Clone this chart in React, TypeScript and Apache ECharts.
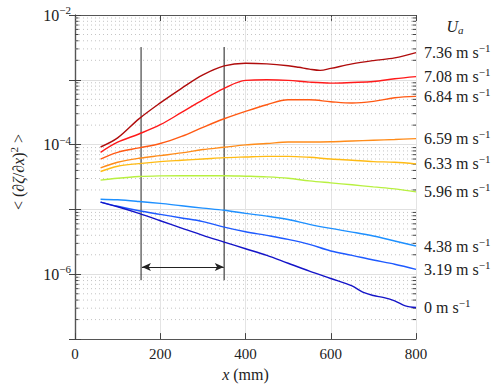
import React, { useEffect, useRef } from "react";
import * as echarts from "echarts";

const xs = [60, 100, 150, 200, 250, 300, 350, 400, 450, 500, 550, 600, 650, 700, 750, 800];
const xs736 = [60, 100, 150, 200, 250, 300, 350, 400, 450, 500, 525, 550, 575, 600, 650, 700, 750, 800];
const xs0 = [60, 100, 150, 200, 250, 300, 350, 400, 450, 500, 550, 600, 650, 675, 700, 725, 750, 775, 800];

const u736 = [9.2e-5, 1.27e-4, 2.5e-4, 4.4e-4, 7.4e-4, 1.19e-3, 1.64e-3, 1.8e-3, 1.76e-3, 1.65e-3, 1.56e-3, 1.46e-3, 1.4e-3, 1.5e-3, 1.76e-3, 1.98e-3, 2.18e-3, 2.63e-3];
const u708 = [7.6e-5, 1.09e-4, 1.46e-4, 2.03e-4, 3.14e-4, 4.92e-4, 7.4e-4, 9.8e-4, 1.0e-3, 9.8e-4, 9.2e-4, 8.9e-4, 9.1e-4, 9.4e-4, 1.04e-3, 1.12e-3];
const u684 = [6.0e-5, 7.6e-5, 8.9e-5, 1.04e-4, 1.34e-4, 1.85e-4, 2.51e-4, 3.26e-4, 4.12e-4, 4.92e-4, 4.92e-4, 4.59e-4, 4.38e-4, 4.65e-4, 5.28e-4, 5.55e-4];
const u659 = [4.38e-5, 5.35e-5, 6.17e-5, 6.78e-5, 7.45e-5, 8.4e-5, 9.1e-5, 9.9e-5, 1.04e-4, 1.1e-4, 1.1e-4, 1.11e-4, 1.14e-4, 1.17e-4, 1.2e-4, 1.24e-4];
const u633 = [3.85e-5, 4.65e-5, 5.1e-5, 5.47e-5, 5.74e-5, 6.0e-5, 6.3e-5, 6.46e-5, 6.6e-5, 6.6e-5, 6.38e-5, 6.0e-5, 5.74e-5, 5.47e-5, 5.35e-5, 5.05e-5];
const u596 = [2.83e-5, 3.03e-5, 3.22e-5, 3.3e-5, 3.32e-5, 3.32e-5, 3.32e-5, 3.26e-5, 3.18e-5, 3.03e-5, 2.76e-5, 2.57e-5, 2.4e-5, 2.23e-5, 2.08e-5, 1.87e-5];
const u438 = [1.44e-5, 1.41e-5, 1.33e-5, 1.24e-5, 1.14e-5, 1.05e-5, 9.7e-6, 8.7e-6, 7.9e-6, 7.0e-6, 5.9e-6, 5.1e-6, 4.48e-6, 3.89e-6, 3.26e-6, 2.73e-6];
const u319 = [1.3e-5, 1.12e-5, 9.55e-6, 8.4e-6, 7.4e-6, 6.5e-6, 5.35e-6, 4.54e-6, 3.98e-6, 3.45e-6, 2.9e-6, 2.29e-6, 1.96e-6, 1.66e-6, 1.43e-6, 1.19e-6];
const u0 = [1.3e-5, 1.1e-5, 8.7e-6, 6.7e-6, 5.16e-6, 3.98e-6, 3.14e-6, 2.48e-6, 1.96e-6, 1.48e-6, 1.12e-6, 8.6e-7, 6.6e-7, 5.3e-7, 4.7e-7, 4.37e-7, 3.89e-7, 3.26e-7, 3.07e-7];

const speeds = ["7.36", "7.08", "6.84", "6.59", "6.33", "5.96", "4.38", "3.19", "0"];
const colors = ["#b00c0c", "#ff1a1a", "#ff5a14", "#ff8c1a", "#ffbb14", "#b8f040", "#1e90ff", "#1e5aff", "#1414c8"];
const seriesValues = [u736, u708, u684, u659, u633, u596, u438, u319, u0];
const seriesXs = [xs736, xs, xs, xs, xs, xs, xs, xs, xs0];

const markerX = [155, 350];
const markerYTop = 3.2e-3;
const markerYBottom = 8.1e-7;
const arrowY = 1.3e-6;

const minorTickValues: number[] = [];
for (let e = -7; e <= -3; e++) {
  for (let m = 2; m <= 9; m++) minorTickValues.push(m * Math.pow(10, e));
}

const FONT = "Liberation Serif";

export default function App() {
  const ref = useRef<HTMLDivElement>(null);
  useEffect(() => {
    if (!ref.current) return;
    const chart = echarts.init(ref.current, undefined, { renderer: "svg" });

    const lineSeries = seriesValues.map((vals, i) => ({
      type: "line",
      name: speeds[i] + " m s-1",
      data: seriesXs[i].map((x, j) => [x, vals[j]]),
      smooth: 0.35,
      showSymbol: false,
      symbol: "none",
      xAxisIndex: 0,
      yAxisIndex: 0,
      lineStyle: { color: colors[i], width: 1.4 },
      itemStyle: { color: colors[i] },
      z: 5,
      endLabel: {
        show: true,
        distance: 8,
        color: "#222",
        fontFamily: FONT,
        formatter: () => `{a|${speeds[i]} m s}{b|−1}`,
        rich: {
          a: { fontFamily: FONT, fontSize: 16, color: "#222" },
          b: { fontFamily: FONT, fontSize: 11, color: "#222", padding: [0, 0, 9, 0] },
        },
      },
    }));

    const option: any = {
      animation: false,
      textStyle: { fontFamily: FONT },
      grid: { left: 75, right: 82, top: 15, bottom: 47 },
      xAxis: [
        {
          type: "value",
          min: 0,
          max: 800,
          interval: 200,
          position: "bottom",
          axisLine: { show: true, lineStyle: { color: "#555", width: 1.2 } },
          axisTick: { show: true, inside: true, length: 6, lineStyle: { color: "#444" } },
          axisLabel: { fontFamily: FONT, fontSize: 15, color: "#222", margin: 7 },
          splitLine: { show: true, lineStyle: { color: "#e4e4e4", width: 1 } },
          name: "{i|x} {n|(mm)}",
          nameLocation: "middle",
          nameGap: 26,
          nameTextStyle: {
            fontFamily: FONT,
            fontSize: 16,
            color: "#222",
            rich: {
              i: { fontFamily: FONT, fontSize: 16, fontStyle: "italic", color: "#222" },
              n: { fontFamily: FONT, fontSize: 16, color: "#222" },
            },
          },
        },
        {
          type: "value",
          min: 0,
          max: 800,
          interval: 200,
          position: "top",
          axisLine: { show: true, lineStyle: { color: "#555", width: 1.2 } },
          axisTick: { show: true, inside: true, length: 6, lineStyle: { color: "#444" } },
          axisLabel: { show: false },
          splitLine: { show: false },
        },
      ],
      yAxis: [
        {
          type: "log",
          logBase: 10,
          min: 1e-7,
          max: 1e-2,
          position: "left",
          axisLine: { show: true, lineStyle: { color: "#555", width: 1.2 } },
          axisTick: { show: true, inside: true, length: 6, lineStyle: { color: "#444" } },
          splitLine: { show: true, lineStyle: { color: "#e0e0e0", width: 1 } },
          axisLabel: {
            margin: 4,
            fontFamily: FONT,
            formatter: (v: number) => {
              const e = Math.round(Math.log10(v));
              if (e % 2 !== 0) return "";
              return `{b|10}{s|−${-e}}`;
            },
            rich: {
              b: { fontFamily: FONT, fontSize: 16, color: "#222" },
              s: { fontFamily: FONT, fontSize: 11, color: "#222", padding: [0, 0, 10, 0] },
            },
          },
        },
        {
          type: "log",
          logBase: 10,
          min: 1e-7,
          max: 1e-2,
          position: "right",
          axisLine: { show: true, lineStyle: { color: "#555", width: 1.2 } },
          axisTick: { show: true, inside: true, length: 6, lineStyle: { color: "#444" } },
          splitLine: { show: false },
          axisLabel: { show: false },
        },
      ],
      graphic: [
        {
          type: "text",
          x: 455,
          y: 26,
          style: {
            text: "{u|U}{a|a}",
            align: "center",
            verticalAlign: "middle",
            rich: {
              u: { fontFamily: FONT, fontSize: 16, fontStyle: "italic", fill: "#222" },
              a: { fontFamily: FONT, fontSize: 11, fontStyle: "italic", fill: "#222", padding: [7, 0, 0, 0] },
            },
          },
        },
        {
          type: "text",
          x: 18,
          y: 172,
          rotation: Math.PI / 2,
          style: {
            text: "{n|< (∂}{i|ζ}{n|/∂}{i|x}{n|)}{s|2}{n| >}",
            align: "center",
            verticalAlign: "middle",
            rich: {
              n: { fontFamily: FONT, fontSize: 16, fill: "#222" },
              i: { fontFamily: FONT, fontSize: 16, fontStyle: "italic", fill: "#222" },
              s: { fontFamily: FONT, fontSize: 11, fill: "#222", padding: [0, 0, 9, 0] },
            },
          },
        },
      ],
      series: [
        {
          type: "custom",
          name: "minor",
          xAxisIndex: 0,
          yAxisIndex: 0,
          silent: true,
          z: 1,
          data: minorTickValues.map((v) => [0, v]),
          renderItem: (params: any, api: any) => {
            const v = api.value(1);
            const l = api.coord([0, v]);
            const r = api.coord([800, v]);
            return {
              type: "group",
              children: [
                {
                  type: "line",
                  shape: { x1: l[0], y1: l[1], x2: r[0], y2: r[1] },
                  style: { stroke: "#c4c4c4", lineWidth: 1, lineDash: [1, 3] },
                },
                {
                  type: "line",
                  shape: { x1: l[0], y1: l[1], x2: l[0] + 3.5, y2: l[1] },
                  style: { stroke: "#444", lineWidth: 1 },
                },
                {
                  type: "line",
                  shape: { x1: r[0] - 3.5, y1: r[1], x2: r[0], y2: r[1] },
                  style: { stroke: "#444", lineWidth: 1 },
                },
              ],
            };
          },
        },
        ...lineSeries,
        {
          type: "line",
          name: "marker1",
          data: [
            [markerX[0], markerYTop],
            [markerX[0], markerYBottom],
          ],
          showSymbol: false,
          symbol: "none",
          lineStyle: { color: "#222", width: 1 },
          z: 4,
        },
        {
          type: "line",
          name: "marker2",
          data: [
            [markerX[1], markerYTop],
            [markerX[1], markerYBottom],
          ],
          showSymbol: false,
          symbol: "none",
          lineStyle: { color: "#666", width: 1.5 },
          z: 4,
          markLine: {
            silent: true,
            symbol: ["arrow", "arrow"],
            symbolSize: [6, 9],
            label: { show: false },
            lineStyle: { color: "#222", width: 1, type: "solid" },
            data: [
              [
                { coord: [markerX[0] + 2, arrowY] },
                { coord: [markerX[1] - 1, arrowY] },
              ],
            ],
          },
        },
      ],
    };
    chart.setOption(option);
    return () => chart.dispose();
  }, []);
  return <div ref={ref} style={{ width: 498, height: 387, position: "absolute", left: 0, top: 0 }} />;
}
